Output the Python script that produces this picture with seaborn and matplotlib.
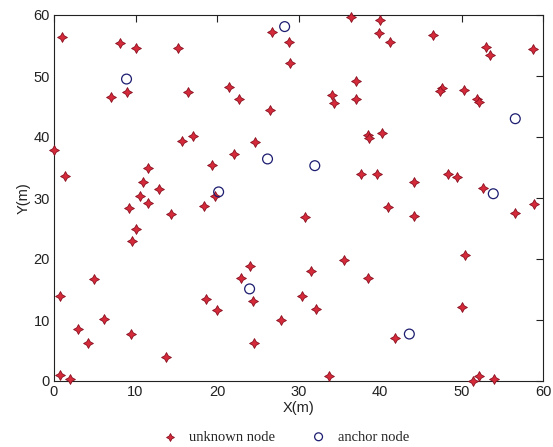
import matplotlib
matplotlib.use("Agg")
import matplotlib.pyplot as plt
import seaborn as sns
import pandas as pd

unknown_x = [1.0, 8.1, 10.1, 15.2, 7.0, 9.0, 16.5, 0.0, 1.3, 11.5, 10.9, 12.9, 10.6, 11.5, 9.2,
             14.4, 10.1, 9.6, 4.9, 0.7, 6.1, 3.0, 4.2, 9.4, 13.7, 0.7, 2.0, 15.7, 17.1, 26.8,
             28.8, 29.0, 36.5, 40.0, 39.9, 41.2, 46.5, 53.0, 53.5, 58.8, 21.5, 22.7, 26.5, 34.1, 34.3,
             37.1, 37.1, 47.6, 47.4, 50.3, 51.9, 52.1, 38.5, 38.7, 40.2, 24.7, 22.1, 19.4, 37.7, 39.6,
             44.2, 48.3, 49.5, 52.6, 19.8, 18.4, 41.0, 44.2, 56.6, 58.9, 30.8, 35.6, 24.0, 31.5, 23.0,
             38.5, 18.6, 24.4, 30.4, 20.0, 32.1, 27.8, 24.5, 33.7, 50.4, 50.1, 41.9, 51.4, 52.2, 54.0]
unknown_y = [56.4, 55.4, 54.6, 54.6, 46.6, 47.4, 47.4, 37.9, 33.6, 34.9, 32.6, 31.5, 30.3, 29.2, 28.4,
             27.3, 25.0, 22.9, 16.7, 13.9, 10.2, 8.5, 6.3, 7.7, 3.9, 1.0, 0.3, 39.3, 40.2, 57.2,
             55.5, 52.2, 59.6, 59.2, 57.0, 55.5, 56.7, 54.8, 53.5, 54.4, 48.2, 46.3, 44.4, 46.9, 45.5,
             49.1, 46.2, 48.1, 47.6, 47.7, 46.2, 45.8, 40.3, 39.9, 40.7, 39.2, 37.2, 35.4, 33.9, 34.0,
             32.6, 33.9, 33.5, 31.7, 30.3, 28.7, 28.5, 27.1, 27.5, 29.0, 26.9, 19.9, 18.9, 18.0, 16.9,
             16.9, 13.4, 13.1, 13.9, 11.6, 11.8, 10.0, 6.3, 0.8, 20.7, 12.2, 7.1, 0.0, 0.8, 0.3]

anchor_x = [8.9, 28.3, 26.2, 32.0, 20.2, 56.6, 53.9, 24.0, 43.6]
anchor_y = [49.5, 58.1, 36.4, 35.3, 31.0, 43.0, 30.7, 15.1, 7.7]

x_ticks = [0, 10, 20, 30, 40, 50, 60]
y_ticks = [0, 10, 20, 30, 40, 50, 60]

df_u = pd.DataFrame({"x": unknown_x, "y": unknown_y})
df_a = pd.DataFrame({"x": anchor_x, "y": anchor_y})

sns.set_style("white")
plt.rcParams["font.family"] = ["Liberation Sans", "DejaVu Sans"]

fig = plt.figure(figsize=(5.53, 4.47), dpi=100)
ax = fig.add_axes([54 / 553, 1 - 381 / 447, (543 - 54) / 553, (381 - 15) / 447])

sns.scatterplot(data=df_u, x="x", y="y", ax=ax, marker=(4, 1, 0), s=50,
                color="#d42a3a", edgecolor="#8a1020", linewidth=0.6, label="unknown node",
                clip_on=False, zorder=3)
sns.scatterplot(data=df_a, x="x", y="y", ax=ax, marker="o", s=50,
                facecolor="none", edgecolor="#1c1c70", linewidth=0.9, label="anchor node",
                clip_on=False, zorder=3)

ax.set_xlim(0, 60)
ax.set_ylim(0, 60)
ax.set_xticks(x_ticks)
ax.set_yticks(y_ticks)
ax.tick_params(direction="in", top=True, right=True, length=5, width=0.8,
               labelsize=10.5, colors="#222222", pad=3)
for sp in ax.spines.values():
    sp.set_color("#222222")
    sp.set_linewidth(0.8)
ax.set_xlabel("X(m)", fontsize=10.5, color="#222222", labelpad=1)
ax.set_ylabel("Y(m)", fontsize=10.5, color="#222222", labelpad=2)

h, l = ax.get_legend_handles_labels()
ax.get_legend().remove()
fig.legend(h, l, loc="center", bbox_to_anchor=(0.51, 1 - 437 / 447), ncol=2,
           frameon=False, prop={"family": "Liberation Serif", "size": 10.5},
           handletextpad=0.3, columnspacing=2.0, markerscale=0.8)

fig.savefig("out.png", dpi=100, facecolor="white")
